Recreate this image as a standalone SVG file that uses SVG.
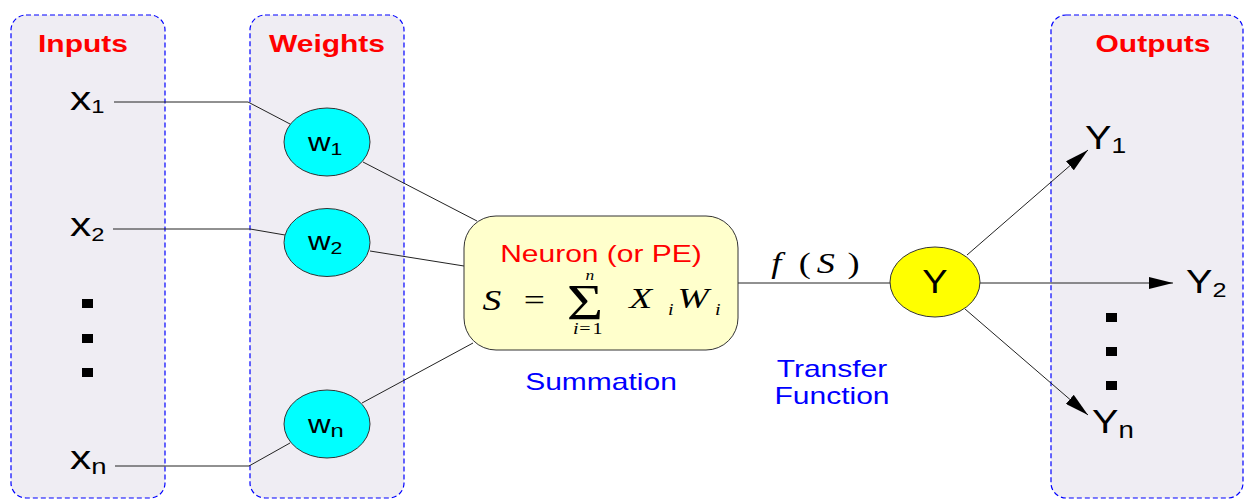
<svg xmlns="http://www.w3.org/2000/svg" width="1244" height="500" viewBox="0 0 1244 500">
<defs>
<style>
.panel{fill:#EFEDF3;stroke:#0000FF;stroke-width:1.2;stroke-dasharray:5,3}
.title{font-family:"Liberation Sans",Arial,sans-serif;font-weight:bold;font-size:24px;fill:#FF0000;text-anchor:middle}
.lbl{font-family:"Liberation Sans",Arial,sans-serif;fill:#000}
.blue{font-family:"Liberation Sans",Arial,sans-serif;font-size:24px;fill:#0000FF;text-anchor:middle}
.math{font-family:"Liberation Serif","Times New Roman",serif;font-style:italic;fill:#000}
.up{font-style:normal}
.wnode{fill:#00FFFF;stroke:#333;stroke-width:1}
.conn{stroke:#222;stroke-width:1;fill:none}
.dot{fill:#000}
</style>
<marker id="arr" markerUnits="userSpaceOnUse" markerWidth="24" markerHeight="12" refX="24" refY="6" orient="auto">
<path d="M0,0 L24,6 L0,12 z" fill="#000"/>
</marker>
</defs>
<rect width="1244" height="500" fill="#FFFFFF"/>

<g id="panel-inputs">
<rect class="panel" x="11" y="15" width="154" height="483" rx="15"/>
<text class="title" transform="translate(83,52) scale(1.25,1)">Inputs</text>
</g>
<g id="panel-weights">
<rect class="panel" x="250" y="15" width="154" height="483" rx="15"/>
<text class="title" transform="translate(327,52) scale(1.25,1)">Weights</text>
</g>
<g id="panel-outputs">
<rect class="panel" x="1051" y="15" width="192" height="483" rx="15"/>
<text class="title" transform="translate(1153,52) scale(1.25,1)">Outputs</text>
</g>

<g id="connectors">
<polyline class="conn" points="114,102 248,102 290,124"/>
<polyline class="conn" points="113,229 250,229 285,235"/>
<polyline class="conn" points="115,466 249,466 290,443"/>
<line class="conn" x1="363" y1="162" x2="477" y2="221"/>
<line class="conn" x1="370" y1="251" x2="464" y2="266"/>
<line class="conn" x1="362" y1="403" x2="473" y2="343"/>
<line class="conn" x1="738" y1="283" x2="891" y2="283"/>
<line class="conn" x1="967" y1="255" x2="1088" y2="150" marker-end="url(#arr)"/>
<line class="conn" x1="980" y1="283" x2="1173" y2="283" marker-end="url(#arr)"/>
<line class="conn" x1="965" y1="309" x2="1088" y2="415" marker-end="url(#arr)"/>
</g>

<g id="input-x1"><text class="lbl" font-size="34" transform="translate(70,110) scale(1.25,1)">x<tspan font-size="19" dy="3">1</tspan></text></g>
<g id="input-x2"><text class="lbl" font-size="34" transform="translate(70,236) scale(1.25,1)">x<tspan font-size="19" dy="5">2</tspan></text></g>
<g id="input-xn"><text class="lbl" font-size="34" transform="translate(70,469) scale(1.25,1)">x<tspan font-size="22" dy="5">n</tspan></text></g>
<g id="input-dots">
<rect class="dot" x="82" y="299" width="11" height="9"/>
<rect class="dot" x="82" y="334" width="11" height="9"/>
<rect class="dot" x="82" y="368" width="11" height="9"/>
</g>

<g id="weight-w1">
<ellipse class="wnode" cx="327" cy="142" rx="43" ry="34"/>
<text class="lbl" font-size="25" transform="translate(308,151) scale(1.25,1)">w<tspan font-size="17" dy="4">1</tspan></text>
</g>
<g id="weight-w2">
<ellipse class="wnode" cx="327" cy="242.5" rx="43" ry="34"/>
<text class="lbl" font-size="25" transform="translate(308,250) scale(1.25,1)">w<tspan font-size="17" dy="4">2</tspan></text>
</g>
<g id="weight-wn">
<ellipse class="wnode" cx="327" cy="424" rx="43" ry="34"/>
<text class="lbl" font-size="25" transform="translate(308,433) scale(1.25,1)">w<tspan font-size="19" dy="4">n</tspan></text>
</g>

<g id="neuron">
<rect x="464" y="216" width="274" height="134" rx="32" fill="#FFFFCC" stroke="#333" stroke-width="1"/>
<text font-family="Liberation Sans, Arial, sans-serif" font-size="24" fill="#FF0000" text-anchor="middle" transform="translate(601,262) scale(1.25,1)">Neuron (or PE)</text>
<text class="math" transform="scale(1.25,1)"><tspan x="386" y="310" font-size="30">S</tspan><tspan class="up" x="419" y="310" font-size="30">=</tspan><tspan class="up" x="453.5" y="319" font-size="50">Σ</tspan><tspan x="468.5" y="280" font-size="14">n</tspan><tspan x="458.5" y="334" font-size="16">i</tspan><tspan class="up" x="463.5" y="334" font-size="16">=</tspan><tspan class="up" x="474" y="334" font-size="16">1</tspan><tspan x="503.5" y="308" font-size="30">X</tspan><tspan x="534.5" y="315" font-size="16">i</tspan><tspan x="542" y="308" font-size="30">W</tspan><tspan x="572" y="315" font-size="16">i</tspan></text>
</g>
<text id="label-summation" class="blue" transform="translate(601,390) scale(1.25,1)">Summation</text>

<g id="label-fs">
<text class="math" font-size="29" transform="scale(1.25,1)"><tspan x="617" y="273">f</tspan><tspan class="up" x="639" y="273">(</tspan><tspan x="653.5" y="273">S</tspan><tspan class="up" x="678" y="273">)</tspan></text>
</g>
<g id="label-transfer">
<text class="blue" transform="translate(832,377) scale(1.25,1)">Transfer</text>
<text class="blue" transform="translate(832,404) scale(1.25,1)">Function</text>
</g>

<g id="node-Y">
<ellipse cx="935" cy="282" rx="45" ry="35" fill="#FFFF00" stroke="#333" stroke-width="1"/>
<text class="lbl" font-size="33" text-anchor="middle" transform="translate(935,293) scale(1.15,1)">Y</text>
</g>

<g id="output-Y1"><text class="lbl" font-size="33" transform="translate(1085,149) scale(1.2,1)">Y<tspan font-size="22" dy="4">1</tspan></text></g>
<g id="output-Y2"><text class="lbl" font-size="33" transform="translate(1186,293) scale(1.2,1)">Y<tspan font-size="21" dy="4">2</tspan></text></g>
<g id="output-Yn"><text class="lbl" font-size="33" transform="translate(1092,433) scale(1.2,1)">Y<tspan font-size="23" dy="5">n</tspan></text></g>
<g id="output-dots">
<rect class="dot" x="1106" y="313" width="11" height="9"/>
<rect class="dot" x="1106" y="347" width="11" height="9"/>
<rect class="dot" x="1106" y="381" width="11" height="9"/>
</g>
</svg>
